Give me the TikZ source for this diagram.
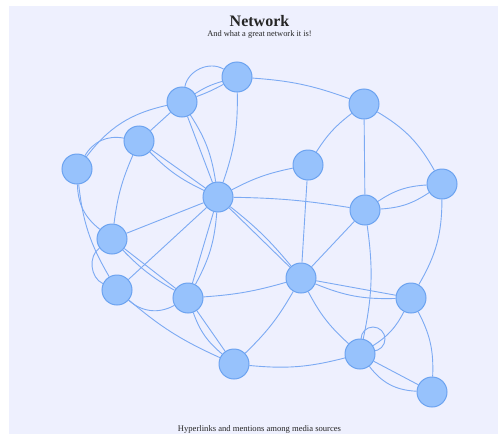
\documentclass[tikz,border=0pt]{standalone}
\usepackage{fontspec}
\setmainfont{Liberation Serif}
\usetikzlibrary{backgrounds}
\definecolor{netback}{RGB}{238,240,254}
\definecolor{netfill}{RGB}{151,194,252}
\definecolor{netline}{RGB}{108,163,240}
\definecolor{netlink}{RGB}{124,170,243}

\begin{document}
\begin{tikzpicture}[x = 1pt, y = 1pt,
  site/.style = {circle, fill = netfill, draw = netline, line width = 1pt, minimum size = 30pt, inner sep = 0pt},
  link/.style = {draw = netlink, line width = 0.9pt},
  caption/.style = {anchor = base, text = black!85}]
\useasboundingbox (0,0) rectangle (498,-434);
\begin{scope}[on background layer]
\fill[netback] (9,-6) rectangle (498,-434);
\end{scope}
% titles
\node[caption, font = \bfseries\fontsize{16}{18}\selectfont] (title) at (259.5,-26) {Network};
\node[caption, font = \fontsize{8.4}{10}\selectfont] (subtitle) at (259.5,-36) {And what a great network it is!};
\node[caption, font = \fontsize{8.6}{10}\selectfont] (footer) at (259.5,-431) {Hyperlinks and mentions among media sources};
% sites
\node[site] (A) at (237,-77) {};
\node[site] (B) at (182,-102) {};
\node[site] (C) at (139,-141) {};
\node[site] (D) at (77,-169) {};
\node[site] (E) at (364,-104) {};
\node[site] (F) at (308,-165) {};
\node[site] (G) at (442,-184) {};
\node[site] (H) at (218,-197) {};
\node[site] (I) at (365,-210) {};
\node[site] (J) at (112,-239) {};
\node[site] (K) at (301,-278) {};
\node[site] (L) at (117,-290) {};
\node[site] (M) at (188,-298) {};
\node[site] (N) at (411,-298) {};
\node[site] (O) at (234,-364) {};
\node[site] (P) at (360,-354) {};
\node[site] (Q) at (432,-392) {};
% links
\begin{scope}[on background layer]
\path[link] (B) [bend left = 55] to (A);
\path[link] (B) [bend left = 8] to (A);
\path[link] (B) [bend right = 4] to (A);
\path[link] (D) [bend left = 20] to (B);
\path[link] (D) [bend left = 35] to (C);
\path[link] (C) to (B);
\path[link] (C) [bend right = 10] to (H);
\path[link] (C) to (H);
\path[link] (B) [bend left = 12] to (H);
\path[link] (B) to (H);
\path[link] (A) [bend left = 10] to (H);
\path[link] (A) [bend left = 8] to (E);
\path[link] (E) [bend right = 10] to (F);
\path[link] (E) to (I);
\path[link] (E) [bend left = 15] to (G);
\path[link] (F) [bend right = 8] to (H);
\path[link] (H) [bend left = 4] to (I);
\path[link] (F) to (K);
\path[link] (I) [bend left = 15] to (G);
\path[link] (I) [bend right = 15] to (G);
\path[link] (G) [bend left = 15] to (N);
\path[link] (I) to (K);
\path[link] (I) [bend left = 10] to (P);
\path[link] (P.center) ++(13,15) circle[radius = 12];
\path[link] (N) [bend left = 15] to (P);
\path[link] (N) [bend left = 15] to (Q);
\path[link] (P) to (Q);
\path[link] (P) [bend right = 25] to (Q);
\path[link] (K) to (N);
\path[link] (K) [bend right = 12] to (N);
\path[link] (K) [bend right = 10] to (P);
\path[link] (K) [bend left = 8] to (O);
\path[link] (O) [bend right = 10] to (P);
\path[link] (H) to (K);
\path[link] (H) [bend left = 6] to (K);
\path[link] (H) to (M);
\path[link] (H) [bend left = 12] to (M);
\path[link] (H) to (L);
\path[link] (H) to (J);
\path[link] (C) [bend right = 8] to (J);
\path[link] (D) [bend right = 25] to (J);
\path[link] (D) [bend right = 12] to (L);
\path[link] (J) [bend right = 60] to (L);
\path[link] (J) to (M);
\path[link] (J) [bend right = 8] to (M);
\path[link] (L) [bend right = 35] to (M);
\path[link] (L) [bend right = 8] to (O);
\path[link] (M) [bend right = 6] to (K);
\path[link] (M) to (O);
\path[link] (M) [bend right = 15] to (O);
\end{scope}
\end{tikzpicture}
\end{document}
